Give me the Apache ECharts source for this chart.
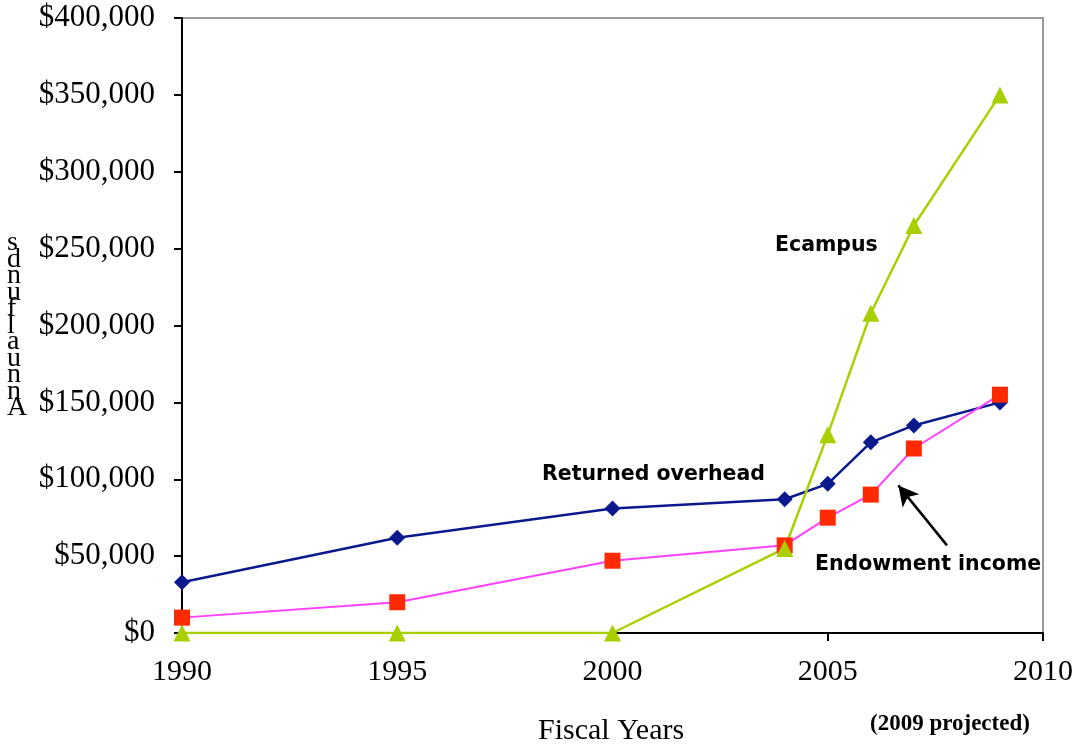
<!DOCTYPE html>
<html>
<head>
<meta charset="utf-8">
<script src="https://cdn.jsdelivr.net/npm/echarts@6/dist/echarts.min.js"></script>
<style>html,body{margin:0;padding:0;background:#fff}#c{width:1080px;height:748px}</style>
</head>
<body>
<div id="c"></div>
<script>
const years = [1990, 1995, 2000, 2004, 2005, 2006, 2007, 2009];
const returnedOverhead = [33000, 62000, 81000, 87000, 97000, 124000, 135000, 150000];
const endowmentIncome = [10000, 20000, 47000, 57000, 75000, 90000, 120000, 155000];
const ecampus = [0, 0, 0, 55000, 129000, 208000, 265000, 350000];
const arrowFrom = [2007.77, 57000];
const arrowTo = [2006.64, 96000];

const pair = (xs, ys) => xs.map((x, i) => [x, ys[i]]);
const chart = echarts.init(document.getElementById('c'), null, {renderer: 'canvas'});
const serif = '"Liberation Serif", "Times New Roman", serif';
const sans = '"DejaVu Sans", Verdana, sans-serif';

chart.setOption({
  animation: false,
  backgroundColor: '#fff',
  grid: {left: 182, right: 37, top: 18, bottom: 115, show: true, borderColor: '#999', borderWidth: 2},
  xAxis: {
    type: 'value', min: 1990, max: 2010, interval: 5,
    axisLine: {lineStyle: {color: '#000', width: 2}},
    axisTick: {show: true, inside: false, length: 8, lineStyle: {color: '#000', width: 2}},
    axisLabel: {color: '#000', fontFamily: serif, fontSize: 30, margin: 24, formatter: v => String(v)},
    splitLine: {show: false}
  },
  yAxis: {
    type: 'value', min: 0, max: 400000, interval: 50000,
    axisLine: {show: true, lineStyle: {color: '#000', width: 2}},
    axisTick: {show: true, inside: false, length: 8, lineStyle: {color: '#000', width: 2}},
    axisLabel: {color: '#000', fontFamily: serif, fontSize: 31, margin: 27,
      formatter: v => '$' + v.toLocaleString('en-US')},
    splitLine: {show: false}
  },
  series: [
    {
      name: 'Returned overhead', type: 'line', data: pair(years, returnedOverhead),
      symbol: 'diamond', symbolSize: 16,
      lineStyle: {color: '#0a1a8c', width: 2.5},
      itemStyle: {color: '#0a1a8c'}
    },
    {
      name: 'Endowment income', type: 'line', data: pair(years, endowmentIncome),
      symbol: 'rect', symbolSize: 16,
      lineStyle: {color: '#ff40ff', width: 2},
      itemStyle: {color: '#ff2a00'},
      markLine: {
        silent: true, symbol: ['none', 'arrow'], symbolSize: [16, 20],
        lineStyle: {color: '#000', width: 2.5, type: 'solid'},
        label: {show: false},
        data: [[{coord: arrowFrom}, {coord: arrowTo}]]
      }
    },
    {
      name: 'Ecampus', type: 'line', data: pair(years, ecampus),
      symbol: 'triangle', symbolSize: 17,
      lineStyle: {color: '#a8d000', width: 2.5},
      itemStyle: {color: '#a8d000'}
    }
  ],
  graphic: [
    {type: 'text', left: 775, top: 235, style: {text: 'Ecampus', font: 'bold 20.5px ' + sans, fill: '#000'}},
    {type: 'text', left: 542, top: 464, style: {text: 'Returned overhead', font: 'bold 20.5px ' + sans, fill: '#000'}},
    {type: 'text', left: 815, top: 554, style: {text: 'Endowment income', font: 'bold 20.5px ' + sans, fill: '#000'}},
    {type: 'text', left: 538, top: 716, style: {text: 'Fiscal Years', font: '30px ' + serif, fill: '#000'}},
    {type: 'text', left: 870, top: 713, style: {text: '(2009 projected)', font: 'bold 23px ' + serif, fill: '#000'}},
    {type: 'text', left: 7, top: 229, style: {text: 's\nd\nn\nu\nf\nl\na\nu\nn\nn\nA', font: '28px ' + serif, lineHeight: 16.5, fill: '#000', align: 'left'}}
  ]
});
</script>
</body>
</html>
